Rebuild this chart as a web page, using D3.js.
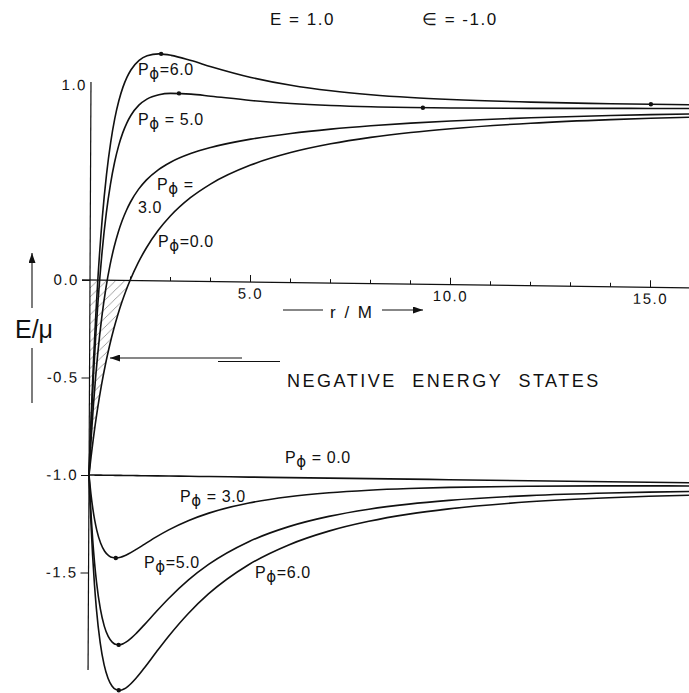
<!DOCTYPE html>
<html>
<head>
<meta charset="utf-8">
<script src="https://cdn.jsdelivr.net/npm/d3@7"></script>
<style>
  html, body { margin: 0; padding: 0; background: #fff; }
  svg { display: block; }
  text { font-family: "Liberation Sans", Arial, sans-serif; fill: #111; }
</style>
</head>
<body>
<svg id="chart" width="689" height="693"></svg>
<script>
// ---- data ----
const rValues = [1.0, 1.02, 1.05, 1.1, 1.15, 1.2, 1.3, 1.4, 1.5, 1.6, 1.7, 1.8, 1.9, 2.0, 2.2, 2.4, 2.7, 3.0, 3.5, 4, 5, 6, 7, 8, 9, 10, 12, 14, 15, 16];
const upperP0 = [-1, -0.9608, -0.9048, -0.8182, -0.7391, -0.6667, -0.5385, -0.4286, -0.3333, -0.25, -0.1765, -0.1111, -0.0526, 0, 0.0909, 0.1667, 0.2593, 0.3333, 0.4286, 0.5, 0.6, 0.6667, 0.7143, 0.75, 0.7778, 0.8, 0.8333, 0.8571, 0.8667, 0.875];
const upperP3 = [-1, -0.9195, -0.8082, -0.6450, -0.5052, -0.3846, -0.1888, -0.0387, 0.0787, 0.1719, 0.2470, 0.3083, 0.3590, 0.4014, 0.4678, 0.5171, 0.5709, 0.6095, 0.6551, 0.6875, 0.7330, 0.7650, 0.7897, 0.8095, 0.8259, 0.8396, 0.8615, 0.8782, 0.8852, 0.8913];
const upperP5 = [-1, -0.8823, -0.7207, -0.4860, -0.2876, -0.1192, 0.1479, 0.3454, 0.4934, 0.6054, 0.6909, 0.7566, 0.8072, 0.8463, 0.8998, 0.9314, 0.9548, 0.9625, 0.9599, 0.9506, 0.9314, 0.9181, 0.9105, 0.9068, 0.9057, 0.9062, 0.9097, 0.9146, 0.9172, 0.9197];
const upperP6 = [-1, -0.8634, -0.6761, -0.4050, -0.1767, 0.0165, 0.3206, 0.5431, 0.7077, 0.8304, 0.9222, 0.9912, 1.0428, 1.0811, 1.1299, 1.1540, 1.1640, 1.1574, 1.1319, 1.1021, 1.0496, 1.0118, 0.9861, 0.9688, 0.9572, 0.9496, 0.9415, 0.9388, 0.9386, 0.9388];
const lowerP0 = [-1, -1, -1, -1, -1, -1, -1, -1, -1, -1, -1, -1, -1, -1, -1, -1, -1, -1, -1, -1, -1, -1, -1, -1, -1, -1, -1, -1, -1, -1];
const lowerP3 = [-1, -1.0413, -1.0965, -1.1732, -1.2340, -1.2821, -1.3496, -1.3899, -1.4120, -1.4219, -1.4234, -1.4194, -1.4116, -1.4014, -1.3769, -1.3505, -1.3116, -1.2761, -1.2265, -1.1875, -1.1330, -1.0984, -1.0754, -1.0595, -1.0481, -1.0396, -1.0282, -1.0211, -1.0185, -1.0163];
const lowerP5 = [-1, -1.0785, -1.1841, -1.3322, -1.4515, -1.5475, -1.6863, -1.7739, -1.8267, -1.8554, -1.8674, -1.8677, -1.8598, -1.8463, -1.8089, -1.7647, -1.6955, -1.6291, -1.5313, -1.4506, -1.3314, -1.2514, -1.1962, -1.1568, -1.1280, -1.1062, -1.0764, -1.0575, -1.0505, -1.0447];
const lowerP6 = [-1, -1.0974, -1.2286, -1.4132, -1.5625, -1.6832, -1.8590, -1.9717, -2.0410, -2.0804, -2.0987, -2.1023, -2.0954, -2.0811, -2.0390, -1.9874, -1.9047, -1.8240, -1.7033, -1.6021, -1.4496, -1.3452, -1.2718, -1.2188, -1.1794, -1.1496, -1.1082, -1.0817, -1.0719, -1.0638];
const extremaR = [2.75, 15.0, 3.2, 9.3, 1.68, 1.76, 1.77];
const extremaE = [1.1645, 0.9386, 0.963, 0.9056, -1.4236, -1.869, -2.102];
const xTickValues = [2, 3, 4, 5, 6, 7, 8, 9, 10, 11, 12, 13, 14, 15, 16];
const xMajorTicks = [5, 10, 15];
const yTickValues = [1.0, 0.0, -0.5, -1.0, -1.5];
const labelText = ["6.0", "5.0", "3.0", "0.0", "0.0", "3.0", "5.0", "6.0"];
const labelR = [2.2, 2.2, 2.2, 2.7, 5.875, 3.25, 2.35, 5.125];
const labelE = [1.05, 0.795, 0.345, 0.17, -0.94, -1.138, -1.477, -1.528];

// ---- scales ----
const x = d3.scaleLinear().domain([1, 16]).range([90, 690]);
const y = d3.scaleLinear().domain([0, -1]).range([280, 475]);

const svg = d3.select("#chart");
svg.append("rect").attr("width", 689).attr("height", 693).attr("fill", "#fff");

const defs = svg.append("defs");
const pat = defs.append("pattern").attr("id", "hatch").attr("patternUnits", "userSpaceOnUse")
  .attr("width", 9).attr("height", 9);
pat.append("path").attr("d", "M-1,1 l2,-2 M0,9 l9,-9 M8,10 l2,-2")
  .attr("stroke", "#777").attr("stroke-width", 0.7);
defs.append("marker").attr("id", "arrow").attr("viewBox", "0 0 10 7")
  .attr("refX", 10).attr("refY", 3.5).attr("markerWidth", 10).attr("markerHeight", 7)
  .attr("markerUnits", "userSpaceOnUse").attr("orient", "auto")
  .append("path").attr("d", "M0,0 L10,3.5 L0,7 Z").attr("fill", "#111");

// slightly sheared plot group (scan is not square)
const g = svg.append("g")
  .attr("transform", "translate(90,280) matrix(1,0.013,-0.005,1,0,0) translate(-90,-280)");

// hatched negative-energy region
const hatchPts = rValues.map((r, i) => [r, upperP0[i]]).filter(d => d[0] <= 2.0);
g.append("path")
  .datum(hatchPts)
  .attr("d", d3.area().x(d => x(d[0])).y0(y(0)).y1(d => y(d[1])).curve(d3.curveMonotoneX))
  .attr("fill", "url(#hatch)").attr("stroke", "none");

// axes lines
g.append("line").attr("x1", x(1)).attr("x2", x(1)).attr("y1", y(1.015)).attr("y2", y(-2.0))
  .attr("stroke", "#111").attr("stroke-width", 1.2);
g.append("line").attr("x1", x(1) - 8).attr("x2", x(16)).attr("y1", y(0)).attr("y2", y(0))
  .attr("stroke", "#111").attr("stroke-width", 1.2);

// x ticks
const xMinorAxis = d3.axisBottom(x).tickValues(xTickValues.filter(v => !xMajorTicks.includes(v)))
  .tickSizeInner(-4).tickSizeOuter(0).tickFormat("");
const xMajorAxis = d3.axisBottom(x).tickValues(xMajorTicks)
  .tickSizeInner(-7).tickSizeOuter(0).tickPadding(6).tickFormat(d3.format(".1f"));
[xMinorAxis, xMajorAxis].forEach(ax => {
  const a = g.append("g").attr("transform", `translate(0,${y(0)})`).call(ax);
  a.select(".domain").remove();
  a.selectAll("line").attr("stroke", "#111").attr("stroke-width", 1);
  a.selectAll("text").attr("font-size", 15).attr("letter-spacing", 1.5)
    .attr("font-family", "Liberation Sans").attr("fill", "#111");
});

// y ticks
const yAxis = d3.axisLeft(y).tickValues(yTickValues).tickSizeInner(8).tickSizeOuter(0)
  .tickPadding(3).tickFormat(d => d3.format(".1f")(d).replace("\u2212", "-"));
const ya = g.append("g").attr("transform", `translate(${x(1)},0)`).call(yAxis);
ya.select(".domain").remove();
ya.selectAll("line").attr("stroke", "#111").attr("stroke-width", 1);
ya.selectAll("text").attr("font-size", 15).attr("letter-spacing", 1.5)
  .attr("font-family", "Liberation Sans").attr("fill", "#111");
ya.selectAll(".tick").filter(d => d === 1).select("line").remove();
ya.selectAll(".tick").filter(d => d === 1).select("text").attr("x", -4);

// curves
const line = d3.line().x(d => x(d[0])).y(d => y(d[1])).curve(d3.curveMonotoneX);
const series = [upperP0, upperP3, upperP5, upperP6, lowerP0, lowerP3, lowerP5, lowerP6];
g.selectAll("path.curve").data(series).join("path").attr("class", "curve")
  .attr("d", vals => line(rValues.map((r, i) => [r, vals[i]])))
  .attr("fill", "none").attr("stroke", "#111").attr("stroke-width", 1.6);

// extremum dots
g.selectAll("circle.ext").data(extremaR).join("circle").attr("class", "ext")
  .attr("cx", (d) => x(d)).attr("cy", (d, i) => y(extremaE[i])).attr("r", 2.2).attr("fill", "#111");

// curve labels  P_phi = value
const PHI = "\u03d5";
labelText.forEach((t, i) => {
  const tx = svg.append("text").attr("x", x(labelR[i])).attr("y", y(labelE[i]))
    .attr("font-size", 16).attr("letter-spacing", 0.6);
  tx.append("tspan").text("P");
  tx.append("tspan").text(PHI).attr("dy", 4).attr("font-family", "DejaVu Sans").attr("font-size", 15);
  if (i === 2) {
    tx.attr("x", x(2.675)).attr("y", y(0.46));
    tx.append("tspan").text(" =").attr("dy", -4);
    svg.append("text").attr("x", x(labelR[i])).attr("y", y(labelE[i]))
      .attr("font-size", 16).attr("letter-spacing", 0.6).text(t);
  } else {
    tx.append("tspan").text((i === 0 || i === 6 || i === 7 || i === 3 ? "=" : " = ") + t).attr("dy", -4);
  }
});

// title
svg.append("text").attr("x", 270).attr("y", 25).attr("font-size", 17).attr("letter-spacing", 1.5).text("E = 1.0");
svg.append("text").attr("x", 422).attr("y", 25).attr("font-size", 17).attr("letter-spacing", 1.5).text("\u2208 = -1.0");

// y label with arrows
svg.append("text").attr("x", 15).attr("y", 338).attr("font-size", 25).text("E/\u03bc");
svg.append("line").attr("x1", 32).attr("x2", 32).attr("y1", 308).attr("y2", 253)
  .attr("stroke", "#111").attr("stroke-width", 1.1).attr("marker-end", "url(#arrow)");
svg.append("line").attr("x1", 32).attr("x2", 32).attr("y1", 348).attr("y2", 403)
  .attr("stroke", "#111").attr("stroke-width", 1.1);

// x label with arrows
svg.append("line").attr("x1", 283).attr("x2", 323).attr("y1", 310).attr("y2", 310)
  .attr("stroke", "#111").attr("stroke-width", 1.1);
svg.append("text").attr("x", 330).attr("y", 318).attr("font-size", 17).attr("letter-spacing", 2).text("r / M");
svg.append("line").attr("x1", 382).attr("x2", 423).attr("y1", 310).attr("y2", 310)
  .attr("stroke", "#111").attr("stroke-width", 1.1).attr("marker-end", "url(#arrow)");

// negative energy annotation
svg.append("line").attr("x1", 242).attr("x2", 110).attr("y1", 358).attr("y2", 358)
  .attr("stroke", "#111").attr("stroke-width", 1.1).attr("marker-end", "url(#arrow)");
svg.append("line").attr("x1", 218).attr("x2", 280).attr("y1", 361.5).attr("y2", 361.5)
  .attr("stroke", "#111").attr("stroke-width", 1.1);
svg.append("text").attr("x", 287).attr("y", 387).attr("font-size", 18)
  .attr("letter-spacing", 2.5).attr("word-spacing", 8).text("NEGATIVE ENERGY STATES");
</script>
</body>
</html>
